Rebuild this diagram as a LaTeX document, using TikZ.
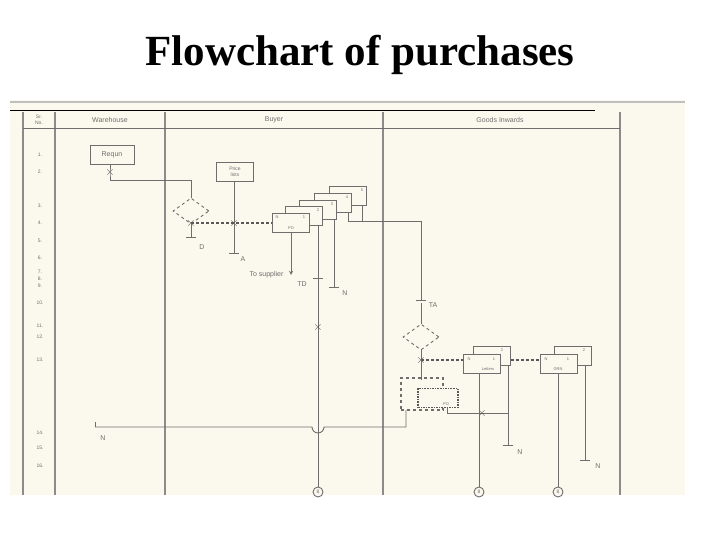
\documentclass[tikz,border=0pt]{standalone}
\usepackage{fontspec}
\setmainfont{Liberation Serif}
\newfontfamily\sansf{Liberation Sans}
\usetikzlibrary{shapes.geometric}
\definecolor{paper}{HTML}{FBF9EE}
\definecolor{ink}{HTML}{6E6E6E}
\tikzset{
 x=1pt,y=-1pt,
 ln/.style={draw=ink,line width=0.9pt},
 lane/.style={draw=ink!80,line width=1.8pt},
 dsh/.style={draw=ink!80!black,line width=1.4pt,dash pattern=on 3pt off 2pt},
 doc/.style={draw=ink,line width=0.9pt,fill=paper,minimum width=37pt,minimum height=19pt,inner sep=0pt},
 dia/.style={diamond,draw=ink,dashed,line width=0.9pt,minimum width=36pt,minimum height=26pt,aspect=1.6,inner sep=0pt},
 lbl/.style={font=\sansf\fontsize{7}{8}\selectfont,text=ink},
 tiny/.style={font=\sansf\fontsize{4}{5}\selectfont,text=ink},
 cir/.style={circle,draw=ink,line width=0.9pt,minimum size=10pt,inner sep=0pt,font=\sansf\fontsize{5}{5}\selectfont,text=ink},
 xm/.style={font=\sansf\fontsize{12}{12}\selectfont,text=ink!70!black,inner sep=0pt},
}
\begin{document}
\begin{tikzpicture}
\useasboundingbox (0,0) rectangle (720,540);
\fill[white] (0,0) rectangle (720,540);
\node[font=\bfseries\fontsize{43}{48}\selectfont] (title) at (360,55) {Flowchart of purchases};
\fill[paper] (10,100) rectangle (685,495);
\draw[draw=gray!50,line width=2pt] (10,102) -- (685,102);
\draw[line width=1pt] (10,111) -- (595,111);
% lanes
\foreach \xx in {23,55,165,383,620} \draw[lane] (\xx,112) -- (\xx,495);
\draw[ln] (23,128) -- (620,128);
\node[lbl,align=center,font=\sansf\fontsize{5}{6}\selectfont] (hs) at (39,120) {Sr.\\No.};
\node[lbl] (hw) at (110,120) {Warehouse};
\node[lbl] (hb) at (274,120) {Buyer};
\node[lbl] (hg) at (500,120) {Goods Inwards};
\foreach \n/\yy in {1./155,2./172,3./206,4./223,5./241,6./258,7./272,8./279,9./286,10./303,11./326,12./337,13./360,14./433,15./448,16./466}
  \node[lbl,font=\sansf\fontsize{5}{6}\selectfont] at (40,\yy) {\n};
% warehouse
\node[draw=ink,line width=0.9pt,fill=paper,minimum width=44pt,minimum height=19pt,lbl] (req) at (112,155) {Requn};
\coordinate (x1) at (110,173);
\node[xm] (xa) at (x1) {$\times$};
\node[dia] (d1) at (191,211) {};
\draw[ln] (req.south -| x1) -- (x1) -- (110,180) -| (d1.north);
\node[xm] (xb) at (191,223) {$\times$};
\draw[ln] (d1.south) -- (191,237);
\draw[ln] (186,237) -- (196,237);
\node[lbl] (lD) at (202,247) {D};
% price lists
\node[draw=ink,line width=0.9pt,fill=paper,minimum width=37pt,minimum height=19pt,align=center,lbl,font=\sansf\fontsize{5}{6}\selectfont] (pl) at (235,172) {Price\\lists};
\node[xm] (xc) at (234,223) {$\times$};
\draw[ln] (pl.south -| xc) -- (234,253);
\draw[ln] (229,253) -- (239,253);
\node[lbl] (lA) at (243,259) {A};
% PO stack
\node[doc] (p5) at (348,196) {}; \node[tiny] at (362,190) {5};
\node[doc] (p4) at (333,203) {}; \node[tiny] at (347,197) {4};
\node[doc] (p3) at (318,210) {}; \node[tiny] at (332,204) {3};
\node[doc] (p2) at (304,216) {}; \node[tiny] at (318,210) {2};
\node[doc] (p1) at (291,223) {};
\node[tiny] at (277,217) {N}; \node[tiny] at (304,217) {1}; \node[tiny] at (291,228) {PO};
\draw[dsh] (191,223) -- (p1.west);
% outputs of stack
\draw[ln,-stealth] (p1.south) -- (291,275);
\node[lbl,anchor=east] (ts) at (287,275) {To supplier};
\draw[ln] (318,225.5) -- (318,487);
\node[cir] (c1) at (318,492) {8};
\draw[ln] (313,278) -- (323,278);
\node[lbl] (lTD) at (302,284) {TD};
\node[xm] (xd) at (318,327) {$\times$};
\draw[ln] (334,219.5) -- (334,287); \draw[ln] (329,287) -- (339,287);
\node[lbl] (lN1) at (345,293) {N};
\draw[ln] (348,212.5) -- (348,221); \draw[ln] (362,205.5) -- (362,221);
\draw[ln] (348,221) -- (421,221) -- (421,300);
\draw[ln] (416,300) -- (426,300);
\node[lbl] (lTA) at (433,305) {TA};
% goods inwards
\node[dia] (d2) at (421,337) {};
\draw[ln] (421,303) -- (d2.north);
\node[xm] (xe) at (421,360) {$\times$};
\draw[ln] (d2.south) -- (421,380);
\node[doc] (l2) at (492,356) {}; \node[tiny] at (502,350) {2};
\node[doc] (l1) at (482,364) {};
\node[tiny] at (469,359) {N}; \node[tiny] at (494,359) {1}; \node[tiny] at (488,369) {Letters};
\node[doc] (g2) at (573,356) {}; \node[tiny] at (584,350) {2};
\node[doc] (g1) at (559,364) {};
\node[tiny] at (546,359) {N}; \node[tiny] at (568,359) {1}; \node[tiny] at (558,369) {GRN};
\draw[dsh] (421,360) -- (l1.west |- 0,360);
\draw[dsh] (l2.east |- 0,360) -- (g1.west |- 0,360);
\node[draw=ink,dashed,line width=1.2pt,minimum width=42pt,minimum height=32pt] (po2) at (422,394) {};
\node[draw=ink!80!black,densely dotted,line width=1.6pt,fill=paper,minimum width=40pt,minimum height=19pt] (po3) at (438,398) {};
\node[tiny] at (446,404) {PO};
\draw[ln] (447,407.5) -- (447,413) -- (508,413);
\node[xm] (xf) at (482,413) {$\times$};
% returned copy line with hop
\draw[ln] (406,410) -- (406,427) -- (324,427) arc (0:180:6) -- (95,427);
\draw[ln] (95,422) -- (95,427);
\node[lbl] (lN2) at (103,438) {N};
% letters & GRN lines
\draw[ln] (479,373.5) -- (479,487);
\node[cir] (c2) at (479,492) {8};
\draw[ln] (508,365.5) -- (508,445); \draw[ln] (503,445) -- (513,445);
\node[lbl] (lN3) at (520,452) {N};
\draw[ln] (558,373.5) -- (558,487);
\node[cir] (c3) at (558,492) {8};
\draw[ln] (585,365.5) -- (585,460); \draw[ln] (580,460) -- (590,460);
\node[lbl] (lN4) at (598,466) {N};
\end{tikzpicture}
\end{document}
